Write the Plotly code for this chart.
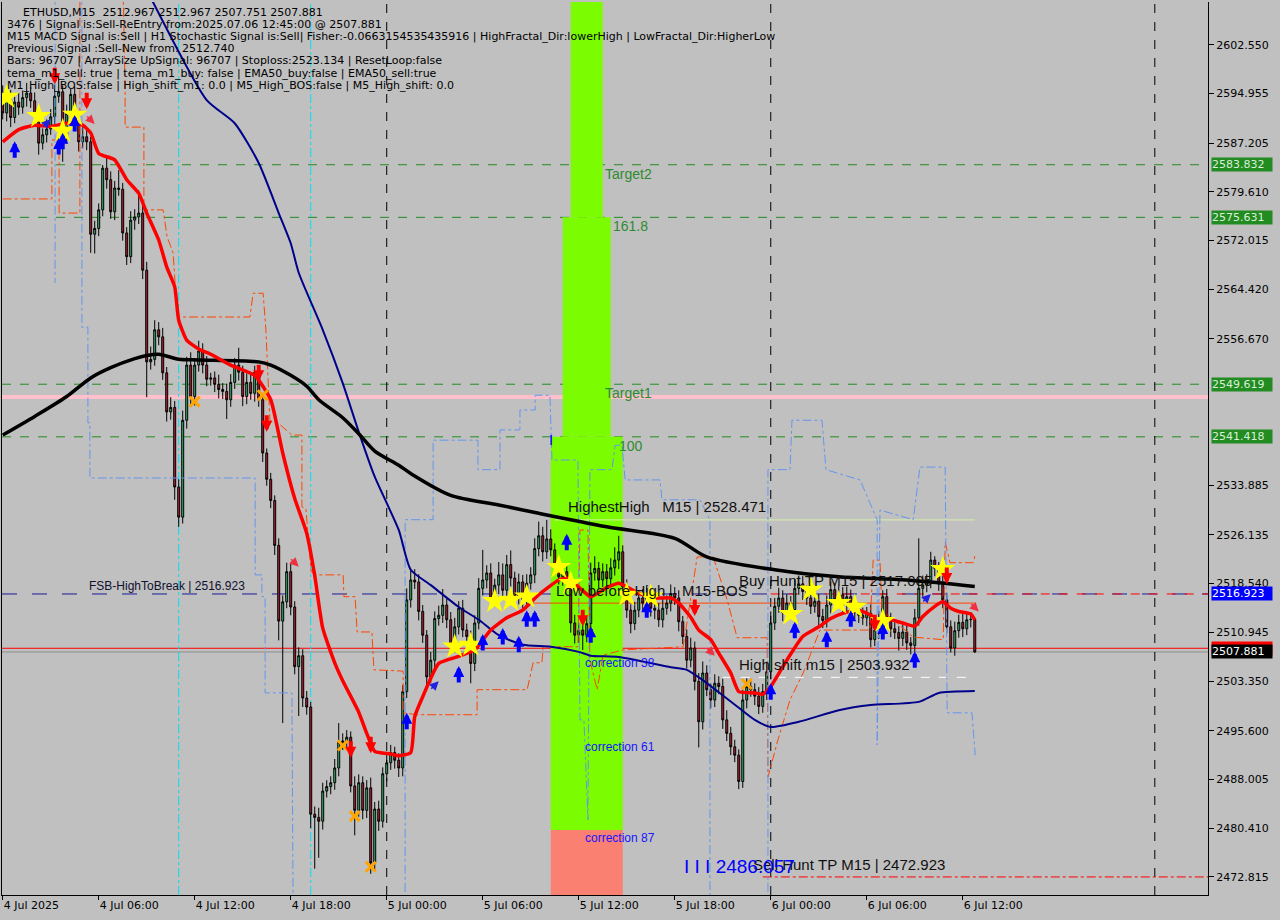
import pandas as pd
import plotly.graph_objects as go

# ---------------- DATA ----------------
start_time = "2025-07-04 00:00"
first_open = 2595.0
closes = [
    2591.9, 2594.0, 2591.2, 2593.6, 2592.8, 2594.3, 2595.0, 2593.8, 2591.5, 2587.2,
    2588.5, 2589.4, 2591.3, 2594.5, 2595.2, 2588.2, 2591.8, 2594.8, 2590.3, 2587.4,
    2588.2, 2587.4, 2573.0, 2573.9, 2576.8, 2583.3, 2581.5, 2576.5, 2580.2, 2580.0,
    2573.2, 2569.5, 2575.2, 2575.7, 2576.3, 2567.4, 2553.1, 2553.5, 2558.1, 2557.0,
    2551.4, 2545.3, 2546.0, 2533.6, 2528.9, 2544.0, 2552.6, 2547.7, 2552.6, 2554.8,
    2552.6, 2550.4, 2550.6, 2549.6, 2548.8, 2548.5, 2547.2, 2549.9, 2552.6, 2551.5,
    2547.7, 2549.9, 2548.2, 2551.5, 2547.2, 2538.9, 2534.8, 2531.5, 2524.5, 2512.7,
    2515.7, 2520.4, 2514.9, 2505.6, 2507.3, 2500.7, 2499.3, 2482.6, 2482.1, 2481.5,
    2486.2, 2486.9, 2487.5, 2489.8, 2493.8, 2494.0, 2494.6, 2487.0, 2483.2, 2487.5,
    2483.2, 2486.7, 2475.0, 2483.4, 2481.5, 2488.9, 2490.6, 2492.2, 2491.0, 2489.8,
    2501.7, 2516.0, 2519.1, 2518.8, 2514.2, 2510.5, 2504.0, 2506.6, 2513.1, 2513.6,
    2515.2, 2512.9, 2509.0, 2511.8, 2514.7, 2511.3, 2510.3, 2506.1, 2512.4, 2517.8,
    2519.1, 2520.2, 2516.0, 2518.3, 2519.9, 2517.5, 2521.5, 2519.4, 2516.5, 2518.8,
    2516.0, 2518.6, 2519.9, 2524.0, 2526.0, 2523.5, 2525.5, 2523.8, 2521.2, 2519.6,
    2520.4, 2518.8, 2512.4, 2510.5, 2511.3, 2510.5, 2512.3, 2520.2, 2520.9, 2519.1,
    2520.4, 2519.3, 2521.0, 2522.2, 2523.5, 2518.0, 2514.4, 2512.3, 2514.4, 2516.3,
    2515.5, 2517.0, 2514.7, 2514.4, 2512.9, 2514.7, 2515.5, 2517.0, 2516.3, 2512.6,
    2510.3, 2506.6, 2508.5, 2503.3, 2497.0, 2504.6, 2502.0, 2500.4, 2503.0, 2502.5,
    2497.3, 2495.2, 2493.1, 2491.8, 2487.7, 2500.4, 2502.5, 2502.0, 2501.0, 2499.4,
    2501.7, 2504.8, 2512.4, 2515.0, 2516.3, 2514.0, 2515.5, 2514.5, 2517.8, 2518.5,
    2517.3, 2516.3, 2515.0, 2515.8, 2513.4, 2512.8, 2515.2, 2517.6, 2516.0, 2516.8,
    2515.3, 2516.5, 2514.8, 2514.0, 2513.6, 2513.2, 2513.9, 2509.8, 2511.3, 2513.0,
    2516.5, 2512.9, 2511.5, 2510.9, 2510.0, 2511.0, 2509.3, 2508.9, 2513.2, 2517.8,
    2518.3, 2518.8, 2522.2, 2520.9, 2518.5, 2516.0, 2511.8, 2508.5, 2511.2, 2512.5,
    2511.5, 2512.9, 2512.967, 2507.881,
]
upper_wicks = [
    1.2, 1.0, 1.5, 0.8, 1.4, 1.1, 1.6, 0.9, 1.3, 0.7, 1.0, 1.5, 1.2, 1.8, 2.5, 1.0, 1.4, 0.9, 1.2, 1.0,
    1.5, 1.1, 0.8, 1.2, 1.0, 0.5, 1.6, 1.3, 1.1, 2.8, 1.0, 0.9, 1.4, 1.2, 3.5, 1.1, 1.3, 2.0, 1.5, 1.2,
    1.4, 0.9, 1.6, 1.0, 1.2, 1.5, 1.3, 2.0, 1.1, 1.6, 1.2, 1.4, 0.8, 1.0, 1.5, 1.0, 1.2, 1.3, 1.1, 2.7,
    1.0, 1.4, 1.2, 1.0, 0.6, 0.9, 0.7, 1.0, 0.8, 1.1, 1.0, 1.4, 1.2, 0.9, 1.3, 1.0, 1.1, 0.8, 1.2, 1.5,
    1.3, 1.0, 1.0, 1.4, 3.0, 1.2, 1.1, 0.9, 1.5, 1.3, 1.0, 1.2, 1.6, 1.1, 1.3, 1.0, 1.4, 1.2, 0.9, 1.1,
    1.0, 1.8, 1.5, 1.7, 1.2, 1.0, 0.8, 1.3, 1.1, 1.5, 2.5, 1.0, 1.2, 1.4, 1.1, 1.3, 1.0, 0.9, 1.2, 1.6,
    4.7, 1.2, 1.5, 1.0, 2.0, 1.8, 1.5, 2.2, 1.0, 1.3, 1.1, 1.4, 1.2, 1.6, 2.2, 1.4, 2.97, 1.5, 1.0, 1.3,
    1.2, 1.0, 1.5, 1.3, 1.1, 1.4, 1.2, 1.6, 1.9, 1.0, 1.3, 1.2, 1.5, 2.0, 2.5, 1.0, 1.2, 0.9, 1.3, 1.1,
    1.4, 1.2, 1.0, 1.3, 1.1, 1.5, 1.2, 1.4, 1.0, 1.2, 0.9, 1.1, 1.6, 1.0, 1.3, 1.8, 1.2, 1.0, 1.4, 1.1,
    1.2, 1.5, 1.0, 1.1, 0.9, 1.6, 1.3, 1.2, 1.0, 1.4, 1.2, 1.5, 1.8, 1.3, 1.6, 1.2, 1.4, 1.1, 1.5, 1.3,
    1.2, 1.0, 1.4, 1.3, 1.1, 1.2, 1.5, 1.3, 1.0, 1.4, 1.2, 1.6, 1.1, 1.0, 1.3, 1.2, 1.0, 1.4, 1.5, 1.3,
    1.0, 1.2, 1.1, 1.3, 1.0, 1.2, 1.1, 0.9, 1.4, 7.8, 1.5, 1.2, 1.3, 0.6, 1.0, 1.2, 1.1, 1.0, 1.4, 1.2,
    1.3, 1.0, 1.1, 0.0,
]
lower_wicks = [
    1.0, 1.3, 1.5, 0.9, 1.2, 1.0, 1.4, 1.1, 1.6, 1.8, 1.0, 1.2, 0.9, 1.3, 1.0, 3.9, 1.1, 1.4, 1.2, 1.5,
    1.0, 1.3, 2.9, 3.0, 1.2, 1.0, 1.4, 1.1, 1.3, 1.0, 1.2, 1.3, 1.0, 1.5, 1.1, 1.4, 5.5, 1.2, 1.0, 1.3,
    1.1, 1.5, 1.2, 2.0, 1.5, 1.0, 1.3, 1.2, 1.4, 1.0, 1.3, 1.1, 1.0, 1.2, 1.4, 1.2, 3.0, 1.1, 1.0, 1.3,
    1.5, 1.2, 1.0, 1.3, 1.1, 1.4, 1.0, 1.2, 1.5, 3.0, 15.9, 1.0, 1.3, 1.2, 7.7, 1.4, 1.2, 2.2, 8.0, 5.7,
    1.3, 1.0, 1.2, 1.1, 1.3, 1.2, 1.5, 1.0, 3.9, 1.0, 1.4, 1.2, 1.7, 1.3, 1.5, 1.0, 1.2, 1.1, 1.3, 1.4,
    1.3, 1.0, 1.2, 1.1, 1.4, 1.2, 1.3, 1.0, 1.5, 1.1, 1.2, 1.3, 1.4, 1.0, 1.2, 1.1, 1.3, 3.1, 1.2, 1.0,
    1.1, 1.3, 1.2, 1.0, 1.4, 1.2, 1.1, 1.3, 1.0, 1.2, 1.4, 1.1, 1.0, 1.3, 1.2, 1.5, 1.1, 1.0, 1.3, 1.2,
    1.4, 1.1, 1.5, 1.3, 1.2, 2.3, 1.1, 1.0, 1.2, 1.4, 1.1, 1.3, 1.0, 1.2, 1.4, 1.3, 1.2, 1.5, 1.0, 1.1,
    1.2, 1.0, 1.3, 1.4, 1.1, 1.2, 1.0, 1.3, 1.1, 1.5, 1.2, 1.3, 1.1, 1.4, 4.0, 1.2, 1.0, 1.3, 1.1, 1.2,
    1.4, 1.2, 1.3, 1.1, 1.2, 1.0, 1.3, 1.1, 1.4, 1.2, 1.0, 1.3, 1.2, 1.1, 1.0, 1.3, 1.2, 1.4, 1.1, 1.0,
    1.3, 1.1, 1.2, 1.0, 1.4, 1.2, 1.1, 1.3, 1.0, 1.2, 1.4, 1.1, 1.3, 1.0, 1.2, 1.1, 1.3, 1.2, 1.0, 1.4,
    1.2, 1.1, 1.3, 1.0, 1.9, 1.2, 1.1, 1.4, 1.0, 1.2, 1.3, 1.1, 1.0, 1.2, 1.1, 1.3, 1.0, 0.7, 1.2, 1.1,
    1.3, 1.0, 1.2, 0.13,
]

# indicator lines: (bar index, price) samples
red_bars = [0, 4, 8, 12, 16, 20, 22, 24, 28, 31, 34, 36, 39, 41, 43, 44, 46, 49, 52, 57, 63, 67, 70, 73,
            76, 78, 80, 83, 85, 89, 91, 93, 97, 99, 102, 103, 105, 109, 114, 118, 122, 126, 130, 134,
            139, 141, 144, 147, 151, 154, 159, 163, 167, 169, 172, 174, 177, 179, 182, 184, 188, 190,
            192, 196, 200, 204, 207, 210, 214, 217, 219, 222, 225, 228, 230, 233, 235, 237, 239, 242, 243]
red_vals = [2587.4, 2589.3, 2590.0, 2589.8, 2590.3, 2590.0, 2588.8, 2585.6, 2584.6, 2581.5, 2579.4,
            2576.3, 2572.1, 2567.9, 2564.8, 2559.6, 2556.5, 2555.1, 2554.3, 2552.6, 2551.0, 2547.2,
            2538.9, 2531.8, 2526.4, 2519.8, 2511.6, 2506.2, 2503.4, 2498.5, 2495.2, 2492.4, 2492.0,
            2491.7, 2492.2, 2497.8, 2500.9, 2506.1, 2507.2, 2508.2, 2511.3, 2513.2, 2514.4, 2516.8,
            2519.1, 2519.4, 2518.0, 2516.5, 2517.9, 2518.6, 2517.0, 2516.3, 2516.3, 2515.5, 2513.3,
            2511.3, 2509.8, 2507.7, 2504.6, 2501.7, 2501.5, 2501.3, 2502.5, 2506.6, 2510.3, 2511.8,
            2513.1, 2513.9, 2514.4, 2513.6, 2512.6, 2512.9, 2512.4, 2511.9, 2513.4, 2515.0, 2515.7,
            2514.7, 2514.2, 2513.8, 2512.9]
black_bars = [0, 8, 16, 22, 27, 33, 36, 39, 44, 49, 64, 67, 72, 76, 79, 85, 89, 93, 99, 102, 112, 124,
              134, 151, 168, 176, 193, 209, 226, 243]
black_vals = [2541.7, 2544.6, 2547.7, 2550.6, 2552.2, 2553.6, 2554.1, 2554.3, 2553.5, 2553.4, 2553.1,
              2552.6, 2551.0, 2549.3, 2547.2, 2544.4, 2541.9, 2539.2, 2537.0, 2535.7, 2532.3, 2530.8,
              2529.5, 2527.4, 2525.6, 2522.7, 2520.7, 2519.6, 2519.1, 2518.1]
navy_bars = [37, 51, 58, 64, 69, 72, 74, 80, 85, 89, 93, 99, 102, 107, 114, 119, 124, 130, 137, 144,
             147, 154, 167, 171, 175, 179, 184, 188, 192, 199, 209, 217, 229, 234, 243]
navy_vals = [2609.9, 2593.9, 2590.3, 2584.1, 2576.3, 2571.6, 2567.0, 2558.1, 2549.8, 2542.2, 2535.2,
             2526.9, 2520.7, 2518.3, 2514.9, 2512.9, 2510.5, 2509.0, 2508.7, 2507.9, 2507.3, 2507.1,
             2505.5, 2505.1, 2503.5, 2501.6, 2499.2, 2497.3, 2496.2, 2497.0, 2498.8, 2499.6, 2500.1,
             2501.5, 2501.8]
# fractal step channels (None = gap)
orange_bars = [0, 12.3, 12.3, 14.1, 14.1, 19.3, 19.3, None, 30.1, 30.6, 30.6, 35.3, 35.3, 40.1, 41.1, 42.6,
               43.6, 43.8, 61.8, 62.6, 65.1, 65.8, 66.8, 68.8, 72.3, 74.8, 74.8, 75.8, 77.1, 78.3, 85.1,
               85.3, 88.1, 88.6, 92.3, 92.8, 100.1, 100.1, 103.6, 118.6, 118.6, 131.1, 132.6, 134.8,
               135.1, 143.8, 144.3, 146.3, 146.8, 148.6, 150.1, 155.1, 170.1, 173.6, 177.6, 181.1,
               183.6, 191.1, 191.3, 193.8, 196.8, 200.1, 204.3, 216.8, 217.6, 219.3, 219.8, 227.6,
               235.1, 235.6, 236.8, 242.6, 243.1]
orange_vals = [2578.5, 2578.5, 2587.7, 2587.7, 2576.3, 2576.3, 2611.1, None, 2611.1, 2595.9, 2589.7,
               2589.7, 2576.8, 2576.8, 2572.6, 2570.1, 2560.7, 2560.1, 2560.1, 2563.8, 2563.8, 2558.1,
               2543.9, 2543.6, 2541.7, 2541.7, 2530.5, 2530.2, 2520.4, 2519.9, 2519.9, 2516.5, 2516.5,
               2511.0, 2511.0, 2505.1, 2504.9, 2498.4, 2498.1, 2498.1, 2502.0, 2502.0, 2506.2, 2506.2,
               2508.7, 2508.7, 2526.9, 2526.9, 2506.6, 2502.0, 2507.4, 2508.2, 2508.7, 2522.7, 2522.7,
               2516.0, 2510.1, 2510.1, 2488.4, 2494.2, 2500.4, 2504.6, 2511.3, 2511.3, 2522.2, 2522.2,
               2514.4, 2510.2, 2509.8, 2525.0, 2521.8, 2521.8, 2523.0]
blue_bars = [13.1, 13.1, None, 19.8, 19.8, 21.3, 21.3, 21.8, 21.8, 63.1, 63.1, 64.8, 64.8, 65.6, 65.6, 72.3,
             72.6, None, 100.6, 100.6, 107.6, 107.6, 118.8, 118.8, 124.3, 124.3, 129.3, 129.3, 133.1,
             133.1, 136.8, 137.3, 143.8, 144.3, 145.3, 146.3, 146.8, 152.3, 153.1, 154.8, 155.6, 164.3,
             164.8, 174.3, 176.8, 176.8, None, 191.3, 191.3, 196.8, 197.3, 204.8, 205.8, 214.3, 218.6,
             218.6, 219.3, 227.6, 229.3, 235.6, 236.1, 242.3, 243.1]
blue_vals = [2611.1, 2565.4, None, 2611.1, 2558.5, 2558.5, 2543.6, 2543.6, 2535.0, 2535.0, 2519.9, 2519.9,
             2516.5, 2516.5, 2501.5, 2501.5, 2467.7, None, 2467.7, 2528.5, 2528.5, 2540.9, 2540.9, 2536.3,
             2536.3, 2542.5, 2542.5, 2545.6, 2545.6, 2547.9, 2547.9, 2537.8, 2537.8, 2497.3, 2497.3,
             2481.7, 2536.3, 2536.3, 2540.1, 2540.1, 2534.7, 2534.7, 2531.6, 2531.6, 2528.5, 2467.7, None,
             2467.7, 2536.3, 2536.3, 2544.0, 2544.0, 2536.3, 2534.7, 2528.5, 2493.4, 2530.0, 2528.5,
             2536.7, 2536.7, 2498.4, 2498.4, 2491.8]

# signal markers
star_bars = [1, 9, 15, 18, 113, 117, 123, 127, 131, 139, 142, 156, 162, 197, 202, 209, 213, 220, 235]
star_prices = [2594.4, 2591.4, 2589.1, 2591.6, 2508.7, 2509.0, 2515.8, 2516.0, 2516.5, 2521.1, 2518.6,
               2516.8, 2516.5, 2513.8, 2517.6, 2515.5, 2514.9, 2512.7, 2520.8]
buy_bars = [3, 14, 15, 18, 101, 114, 120, 125, 129, 131, 133, 141, 147, 161, 192, 198, 206, 212, 220, 228]
buy_prices = [2586.1, 2586.6, 2587.4, 2590.2, 2497.0, 2504.3, 2509.3, 2510.2, 2509.0, 2513.0, 2513.0,
              2524.9, 2510.5, 2514.4, 2501.6, 2511.2, 2509.8, 2513.0, 2511.0, 2506.6]
sell_bars = [13, 21, 64, 66, 87, 92, 145, 173, 218, 236]
sell_prices = [2597.8, 2593.9, 2551.5, 2543.6, 2492.8, 2493.5, 2513.3, 2514.9, 2512.5, 2519.9]
exit_bars = [48, 65, 85, 88, 92, 186]
exit_prices = [2546.9, 2547.9, 2493.3, 2482.3, 2474.4, 2502.9]
reentry_buy_bars = [11, 108, 231]
reentry_buy_prices = [2590.3, 2502.7, 2516.3]
reentry_sell_bars = [22, 73, 177, 243]
reentry_sell_prices = [2590.8, 2521.8, 2507.9, 2514.8]

# levels
target2, fib_1618, target1, fib_100 = 2583.832, 2575.631, 2549.619, 2541.418
pink_level = 2547.63
fsb_level = 2516.923
red_level = 2508.46
bid_price = 2507.881
sell_tp = 2472.815
high_shift = 2503.932
highest_high = 2528.471
low_before_high = 2515.5
fib_low_edge = 2480.13

tick_times = ["2025-07-04 00:00", "2025-07-04 06:00", "2025-07-04 12:00", "2025-07-04 18:00",
              "2025-07-05 00:00", "2025-07-05 06:00", "2025-07-05 12:00", "2025-07-05 18:00",
              "2025-07-06 00:00", "2025-07-06 06:00", "2025-07-06 12:00"]
tick_labels = ["4 Jul 2025", "4 Jul 06:00", "4 Jul 12:00", "4 Jul 18:00", "5 Jul 00:00", "5 Jul 06:00",
               "5 Jul 12:00", "5 Jul 18:00", "6 Jul 00:00", "6 Jul 06:00", "6 Jul 12:00"]
day_breaks = ["2025-07-05 00:00", "2025-07-06 00:00", "2025-07-07 00:00"]
cyan_marks = ["2025-07-04 11:00", "2025-07-04 19:15"]
price_ticks = [2602.550, 2594.955, 2587.205, 2579.610, 2572.015, 2564.420, 2556.670, 2533.885,
               2526.135, 2518.540, 2510.945, 2503.350, 2495.600, 2488.005, 2480.410, 2472.815]
header_lines = [
    "ETHUSD,M15  2512.967 2512.967 2507.751 2507.881",
    "3476 | Signal is:Sell-ReEntry from:2025.07.06 12:45:00 @ 2507.881",
    "M15 MACD Signal is:Sell | H1 Stochastic Signal is:Sell| Fisher:-0.0663154535435916 | HighFractal_Dir:lowerHigh | LowFractal_Dir:HigherLow",
    "Previous Signal :Sell-New from: 2512.740",
    "Bars: 96707 | ArraySize UpSignal: 96707 | Stoploss:2523.134 | ResetLoop:false",
    "tema_m1_sell: true | tema_m1_buy: false | EMA50_buy:false | EMA50_sell:true",
    "M1_High_BOS:false | High_shift_m1: 0.0 | M5_High_BOS:false | M5_High_shift: 0.0",
]

# ---------------- BUILD ----------------
T0 = pd.Timestamp(start_time)
STEP = pd.Timedelta("15min")


def bar_of(ts):
    return (pd.Timestamp(ts) - T0) / STEP


bars = list(range(len(closes)))
opens = [first_open] + closes[:-1]
highs = [round(max(o, c) + u, 3) for o, c, u in zip(opens, closes, upper_wicks)]
lows = [round(min(o, c) - w, 3) for o, c, w in zip(opens, closes, lower_wicks)]

X_RANGE = [-0.175, 301.3]
Y_RANGE = [2470.0, 2609.2]
BG = "#C0C0C0"
NB = "\u00a0"

fig = go.Figure()

fig.add_trace(go.Candlestick(
    x=bars, open=opens, high=highs, low=lows, close=closes,
    increasing=dict(line=dict(color="black", width=1), fillcolor="#3CB371"),
    decreasing=dict(line=dict(color="black", width=1), fillcolor="#B22234"),
    whiskerwidth=0, hoverinfo="skip", showlegend=False))

fig.add_trace(go.Scatter(x=orange_bars, y=orange_vals, mode="lines",
                         line=dict(color="#FF4500", width=1, dash="dashdot"), hoverinfo="skip"))
fig.add_trace(go.Scatter(x=blue_bars, y=blue_vals, mode="lines",
                         line=dict(color="#6495ED", width=1, dash="dashdot"), hoverinfo="skip"))
fig.add_trace(go.Scatter(x=navy_bars, y=navy_vals, mode="lines",
                         line=dict(color="#00008B", width=2, shape="spline", smoothing=0.6), hoverinfo="skip"))
fig.add_trace(go.Scatter(x=black_bars, y=black_vals, mode="lines",
                         line=dict(color="black", width=3.5, shape="spline", smoothing=0.8), hoverinfo="skip"))
fig.add_trace(go.Scatter(x=red_bars, y=red_vals, mode="lines",
                         line=dict(color="#FF0000", width=3.5, shape="spline", smoothing=0.5), hoverinfo="skip"))

fig.add_trace(go.Scatter(x=exit_bars, y=exit_prices, mode="markers",
                         marker=dict(symbol="x-thin", size=10, line=dict(color="#FFA500", width=3)),
                         hoverinfo="skip"))
fig.add_trace(go.Scatter(x=star_bars, y=star_prices, mode="markers",
                         marker=dict(symbol="star", size=19, color="#FFFF00",
                                     line=dict(color="#FFFF00", width=0)), hoverinfo="skip"))

shapes = []
# fib zone rectangles
for x0, x1, y0, y1, col in [
    (142, 150, fib_1618, Y_RANGE[1] + 5, "#7CFC00"),
    (140, 152, fib_100, fib_1618, "#7CFC00"),
    (137, 155, fib_low_edge, fib_100, "#7CFC00"),
    (137, 155, Y_RANGE[0] - 5, fib_low_edge, "#FA8072"),
]:
    shapes.append(dict(type="rect", xref="x", yref="y", x0=x0, x1=x1, y0=y0, y1=y1,
                       fillcolor=col, line=dict(width=0), layer="below"))
# full-width levels
for lvl in [target2, fib_1618, target1, fib_100]:
    shapes.append(dict(type="line", xref="paper", yref="y", x0=0, x1=1, y0=lvl, y1=lvl,
                       line=dict(color="#228B22", width=1, dash="dash"), layer="below"))
shapes.append(dict(type="line", xref="paper", yref="y", x0=0, x1=1, y0=pink_level, y1=pink_level,
                   line=dict(color="#FFC0CB", width=4), layer="below"))
shapes.append(dict(type="line", xref="paper", yref="y", x0=0, x1=1, y0=fsb_level, y1=fsb_level,
                   line=dict(color="#1A1A9A", width=1, dash="longdash"), layer="below"))
shapes.append(dict(type="line", xref="x", yref="y", x0=192, x1=X_RANGE[1], y0=fsb_level, y1=fsb_level,
                   line=dict(color="#FF0000", width=1, dash="dash"), layer="below"))
shapes.append(dict(type="line", xref="paper", yref="y", x0=0, x1=1, y0=red_level, y1=red_level,
                   line=dict(color="#FF0000", width=1), layer="below"))
shapes.append(dict(type="line", xref="paper", yref="y", x0=0, x1=1, y0=bid_price, y1=bid_price,
                   line=dict(color="#8C8C8C", width=1), layer="below"))
shapes.append(dict(type="line", xref="x", yref="y", x0=190, x1=X_RANGE[1], y0=sell_tp, y1=sell_tp,
                   line=dict(color="#FF0000", width=1, dash="dashdot"), layer="below"))
shapes.append(dict(type="line", xref="x", yref="y", x0=180, x1=242.3, y0=high_shift, y1=high_shift,
                   line=dict(color="#FFFFFF", width=1, dash="dash"), layer="below"))
shapes.append(dict(type="line", xref="x", yref="y", x0=138, x1=243, y0=highest_high, y1=highest_high,
                   line=dict(color="#D8F0A8", width=1), layer="below"))
shapes.append(dict(type="line", xref="x", yref="y", x0=132.6, x1=243, y0=low_before_high, y1=low_before_high,
                   line=dict(color="#FF4500", width=1), layer="below"))
for t in day_breaks:
    b = bar_of(t)
    shapes.append(dict(type="line", xref="x", yref="paper", x0=b, x1=b, y0=0, y1=1,
                       line=dict(color="black", width=1, dash="dash"), layer="below"))
for t in cyan_marks:
    b = bar_of(t)
    shapes.append(dict(type="line", xref="x", yref="paper", x0=b, x1=b, y0=0, y1=1,
                       line=dict(color="#00E0F0", width=1, dash="dashdot"), layer="below"))

ann = []
CH = "Liberation Sans"

# signal arrows (annotation arrows give a head and a shaft)
for b, p in zip(buy_bars, buy_prices):
    ann.append(dict(xref="x", yref="y", x=b, y=p, text="", showarrow=True, ax=0, ay=18, yshift=9,
                    arrowhead=2, arrowsize=0.55, arrowwidth=4, arrowcolor="#0000FF"))
for b, p in zip(sell_bars, sell_prices):
    ann.append(dict(xref="x", yref="y", x=b, y=p, text="", showarrow=True, ax=0, ay=-18, yshift=-9,
                    arrowhead=2, arrowsize=0.55, arrowwidth=4, arrowcolor="#FF0000"))
for b, p in zip(reentry_buy_bars, reentry_buy_prices):
    ann.append(dict(xref="x", yref="y", x=b, y=p, text="", showarrow=True, ax=-9, ay=9, xshift=4, yshift=4,
                    arrowhead=2, arrowsize=1.2, arrowwidth=1.5, arrowcolor="#2020E0"))
for b, p in zip(reentry_sell_bars, reentry_sell_prices):
    ann.append(dict(xref="x", yref="y", x=b, y=p, text="", showarrow=True, ax=-9, ay=-9, xshift=4, yshift=-4,
                    arrowhead=2, arrowsize=1.2, arrowwidth=1.5, arrowcolor="#F03040"))

# header
PLOT_H = 893.0
PLOT_W = 1206.0
for k, line in enumerate(header_lines):
    xp = 22 if k == 0 else 6
    yc = 12.3 + 12.15 * k
    ann.append(dict(xref="paper", yref="paper", x=(xp - 2) / PLOT_W, y=(895 - yc) / PLOT_H,
                    xanchor="left", yanchor="middle", showarrow=False, text=line.replace(" ", NB),
                    font=dict(family="DejaVu Sans", size=11, color="black"), borderpad=0))


def label(bar, price, text, size=15, color="#101010", yanchor="middle", family=CH):
    ann.append(dict(xref="x", yref="y", x=bar, y=price, xanchor="left", yanchor=yanchor,
                    showarrow=False, text=text.replace(" ", NB), borderpad=0,
                    font=dict(family=family, size=size, color=color)))


label(150.3, target2, "Target2", 14, "#2E8B2E", "top")
label(152.3, fib_1618, "161.8", 14, "#2E8B2E", "top")
label(150.3, target1, "Target1", 14, "#2E8B2E", "top")
label(153.8, fib_100, "100", 14, "#2E8B2E", "top")
label(145.3, 2506.2, "correction 38", 12, "#1414FF")
label(145.3, 2493.1, "correction 61", 12, "#1414FF")
label(145.3, 2478.9, "correction 87", 12, "#1414FF")
label(141.1, 2530.5, "HighestHigh   M15 | 2528.471", 15)
label(138.1, 2517.4, "Low before High    M15-BOS", 15)
label(183.8, 2518.95, "Buy Hunt TP M15 | 2517.005", 15)
label(183.8, 2505.9, "High shift m15 | 2503.932", 15)
label(187.3, 2474.8, "Sell Hunt TP M15 | 2472.923", 15)
label(170.1, 2474.5, "I I I 2486.057", 19, "#0000FF")
label(21.3, 2518.2, "FSB-HighToBreak | 2516.923", 12, "#101030")
label(136.3, 2541.0, "I", 15, "#0000FF")

# right-axis price boxes
boxes = [(target2, "#228B22", "#D8F0D8"), (fib_1618, "#228B22", "#D8F0D8"),
         (target1, "#228B22", "#D8F0D8"), (fib_100, "#228B22", "#D8F0D8"),
         (fsb_level, "#0000FF", "#FFFFFF"), (red_level, "#FF0000", "#FF0000"),
         (bid_price, "#000000", "#FFFFFF")]
for price, bg, fg in boxes:
    ann.append(dict(xref="paper", yref="y", x=1, y=price, xanchor="left", yanchor="middle",
                    xshift=3, showarrow=False, text=f"{price:.3f}", bgcolor=bg, width=60, height=13,
                    align="left", borderpad=0,
                    font=dict(family="DejaVu Sans", size=11, color=fg)))

fig.update_layout(
    width=1280, height=920,
    margin=dict(l=2, r=72, t=2, b=25),
    paper_bgcolor=BG, plot_bgcolor=BG,
    showlegend=False, hovermode=False,
    shapes=shapes, annotations=ann,
    xaxis=dict(range=X_RANGE, tickvals=[bar_of(t) for t in tick_times], ticktext=tick_labels,
               ticklabelposition="outside right", ticks="outside", ticklen=4, tickcolor="black",
               showline=True, linecolor="black", linewidth=1, showgrid=False, zeroline=False,
               rangeslider=dict(visible=False), automargin=False,
               tickfont=dict(family="DejaVu Sans", size=11, color="black")),
    yaxis=dict(range=Y_RANGE, side="right", tickvals=price_ticks,
               ticktext=[f"{v:.3f}" for v in price_ticks], ticks="outside", ticklen=5,
               tickcolor="black", showline=True, mirror=True, linecolor="black", linewidth=1,
               showgrid=False, zeroline=False, automargin=False,
               tickfont=dict(family="DejaVu Sans", size=11, color="black")),
)

fig.write_html("out.html", config={"displayModeBar": False},
               post_script="document.body.style.margin='0';document.body.style.background='#C0C0C0';")
